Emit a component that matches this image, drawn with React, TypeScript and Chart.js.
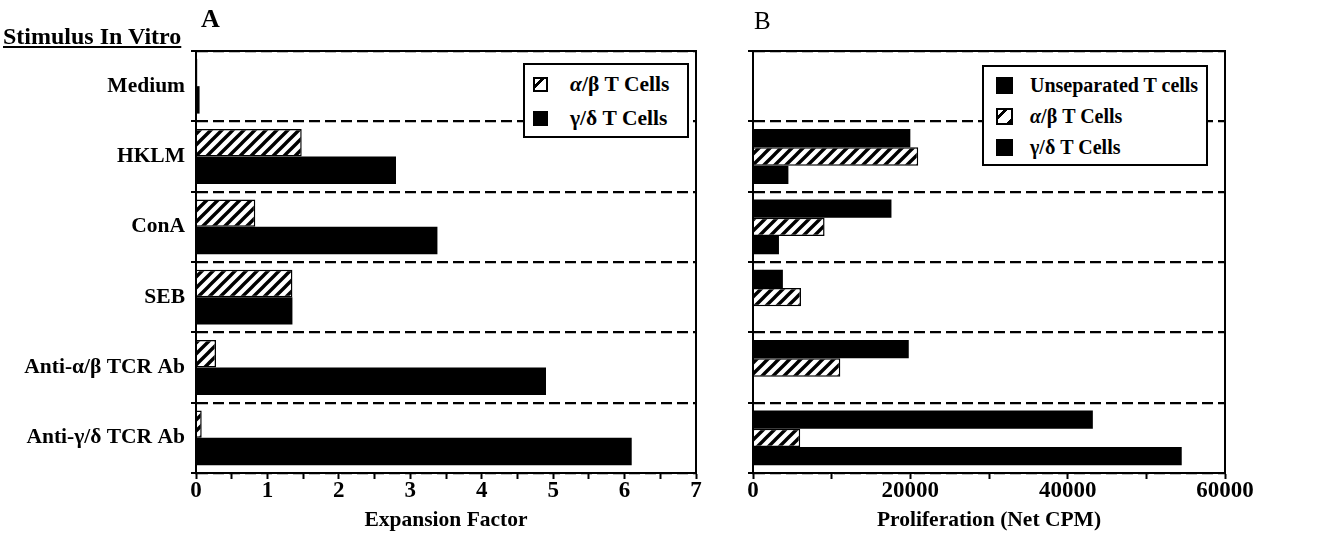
import React, { useEffect, useRef } from "react";
import { Chart, registerables } from "chart.js";
Chart.register(...registerables);

// ---------- data ----------
const categories = ["Medium", "HKLM", "ConA", "SEB", "Anti-α/β TCR Ab", "Anti-γ/δ TCR Ab"];

const expansionAlphaBeta = [0.02, 1.48, 0.83, 1.35, 0.28, 0.08];
const expansionGammaDelta = [0.05, 2.8, 3.38, 1.35, 4.9, 6.1];

const prolifUnseparated = [0, 20000, 17600, 3800, 19800, 43200];
const prolifAlphaBeta = [0, 21000, 9100, 6100, 11100, 6000];
const prolifGammaDelta = [0, 4500, 3300, 0, 0, 54500];

const expansionTickLabels = ["0", "1", "2", "3", "4", "5", "6", "7"];
const prolifTickLabels = ["0", "20000", "40000", "60000"];

const legendA = ["α/β T Cells", "γ/δ T Cells"];
const legendB = ["Unseparated T cells", "α/β T Cells", "γ/δ T Cells"];

const FONT = '"Liberation Serif", "Times New Roman", "DejaVu Serif", serif';

function makeHatch(): CanvasPattern {
  const s = 11;
  const c = document.createElement("canvas");
  c.width = s;
  c.height = s;
  const ctx = c.getContext("2d")!;
  ctx.fillStyle = "#fff";
  ctx.fillRect(0, 0, s, s);
  ctx.strokeStyle = "#000";
  ctx.lineWidth = 3.4;
  ctx.beginPath();
  ctx.moveTo(-1, s + 1);
  ctx.lineTo(s + 1, -1);
  ctx.moveTo(-s / 2 - 1, s / 2 + 1);
  ctx.lineTo(s / 2 + 1, -s / 2 - 1);
  ctx.moveTo(s / 2 - 1, s * 1.5 + 1);
  ctx.lineTo(s * 1.5 + 1, s / 2 - 1);
  ctx.stroke();
  return ctx.createPattern(c, "repeat")!;
}

// solid frame: left, top and right edges of the plot area
const framePlugin = {
  id: "frame",
  afterDatasetsDraw(chart: any) {
    const { ctx, chartArea: a } = chart;
    ctx.save();
    ctx.strokeStyle = "#000";
    ctx.lineWidth = 2;
    ctx.setLineDash([]);
    ctx.beginPath();
    ctx.moveTo(a.left, a.bottom);
    ctx.lineTo(a.left, a.top);
    ctx.lineTo(a.right, a.top);
    ctx.lineTo(a.right, a.bottom);
    ctx.stroke();
    ctx.restore();
  },
};

function makeOptions(opts: {
  max: number;
  step: number;
  labels: string[];
  title: string;
  showY: boolean;
  yWidth: number;
  padRight: number;
}): any {
  return {
    indexAxis: "y",
    animation: false,
    responsive: false,
    maintainAspectRatio: false,
    layout: { padding: { top: 51, right: opts.padRight, left: 0, bottom: 9 } },
    plugins: { legend: { display: false }, tooltip: { enabled: false } },
    datasets: { bar: { categoryPercentage: 0.78, barPercentage: 1.0 } },
    scales: {
      x: {
        type: "linear",
        min: 0,
        max: opts.max,
        afterFit: (s: any) => {
          s.height = 60;
        },
        ticks: {
          stepSize: opts.step,
          autoSkip: false,
          maxRotation: 0,
          color: "#000",
          padding: -2,
          font: { family: FONT, size: 23, weight: "bold" },
          callback: (v: any) => {
            const s = String(v);
            return opts.labels.includes(s) ? s : "";
          },
        },
        grid: {
          display: true,
          drawOnChartArea: false,
          drawTicks: true,
          tickLength: 6,
          tickColor: "#000",
          tickWidth: 2,
        },
        border: { display: true, color: "#000", width: 2 },
        title: {
          display: true,
          text: opts.title,
          color: "#000",
          padding: { top: 0, bottom: 0 },
          font: { family: FONT, size: 21.5, weight: "bold" },
        },
      },
      y: {
        type: "category",
        offset: true,
        afterFit: (s: any) => {
          s.width = opts.yWidth;
        },
        ticks: {
          display: opts.showY,
          color: "#000",
          padding: 6,
          font: { family: FONT, size: 21.5, weight: "bold" },
        },
        grid: {
          offset: true,
          display: true,
          drawOnChartArea: true,
          drawTicks: true,
          tickLength: 5,
          color: "#000",
          lineWidth: 2.2,
          tickColor: "#000",
          tickWidth: 2,
          tickBorderDash: [1, 0],
        },
        border: { display: true, color: "#000", width: 2, dash: [11, 5] },
      },
    },
  };
}

const legendBox: React.CSSProperties = {
  position: "absolute",
  background: "#fff",
  border: "2px solid #000",
  boxSizing: "border-box",
  fontFamily: FONT,
  fontWeight: "bold",
  color: "#000",
};

function Swatch({ hatch, size }: { hatch: boolean; size: number }) {
  return (
    <span
      style={{
        display: "inline-block",
        width: size,
        height: size,
        boxSizing: "border-box",
        border: "2px solid #000",
        background: hatch
          ? "repeating-linear-gradient(135deg, #fff 0px, #fff 4px, #000 4px, #000 7px, #fff 7px, #fff 11px)"
          : "#000",
        verticalAlign: "middle",
      }}
    />
  );
}

function greek(label: string) {
  const parts = label.split("α");
  if (parts.length === 1) return label;
  return (
    <>
      {parts[0]}
      <i>α</i>
      {parts[1]}
    </>
  );
}

export default function App() {
  const refA = useRef<HTMLCanvasElement>(null);
  const refB = useRef<HTMLCanvasElement>(null);

  useEffect(() => {
    const hatch = makeHatch();
    const chartA = new Chart(refA.current!, {
      type: "bar",
      data: {
        labels: categories,
        datasets: [
          {
            label: legendA[0],
            data: expansionAlphaBeta,
            backgroundColor: hatch,
            borderColor: "#000",
            borderWidth: 1.5,
          },
          {
            label: legendA[1],
            data: expansionGammaDelta,
            backgroundColor: "#000",
            borderColor: "#000",
            borderWidth: 0,
          },
        ],
      },
      options: makeOptions({
        max: 7,
        step: 0.5,
        labels: expansionTickLabels,
        title: "Expansion Factor",
        showY: true,
        yWidth: 196,
        padRight: 24,
      }),
      plugins: [framePlugin],
    });
    const chartB = new Chart(refB.current!, {
      type: "bar",
      data: {
        labels: categories,
        datasets: [
          {
            label: legendB[0],
            data: prolifUnseparated,
            backgroundColor: "#000",
            borderColor: "#000",
            borderWidth: 0,
          },
          {
            label: legendB[1],
            data: prolifAlphaBeta,
            backgroundColor: hatch,
            borderColor: "#000",
            borderWidth: 1.5,
          },
          {
            label: legendB[2],
            data: prolifGammaDelta,
            backgroundColor: "#000",
            borderColor: "#000",
            borderWidth: 0,
          },
        ],
      },
      options: makeOptions({
        max: 60000,
        step: 10000,
        labels: prolifTickLabels,
        title: "Proliferation (Net CPM)",
        showY: false,
        yWidth: 33,
        padRight: 100,
      }),
      plugins: [framePlugin],
    });
    return () => {
      chartA.destroy();
      chartB.destroy();
    };
  }, []);

  return (
    <div
      style={{
        position: "fixed",
        left: 0,
        top: 0,
        width: 1325,
        height: 542,
        background: "#fff",
        overflow: "hidden",
      }}
    >
      <canvas
        ref={refA}
        width={720}
        height={542}
        style={{ position: "absolute", left: 0, top: 0, width: 720, height: 542 }}
      />
      <canvas
        ref={refB}
        width={605}
        height={542}
        style={{ position: "absolute", left: 720, top: 0, width: 605, height: 542 }}
      />
      <div
        style={{
          position: "absolute",
          left: 3,
          top: 23,
          fontFamily: FONT,
          fontWeight: "bold",
          fontSize: 24,
          lineHeight: "26px",
          textDecoration: "underline",
          whiteSpace: "nowrap",
        }}
      >
        Stimulus In Vitro
      </div>
      <div
        style={{
          position: "absolute",
          left: 201,
          top: 5,
          fontFamily: FONT,
          fontWeight: "bold",
          fontSize: 26,
          lineHeight: "28px",
        }}
      >
        A
      </div>
      <div
        style={{
          position: "absolute",
          left: 754,
          top: 7,
          fontFamily: FONT,
          fontSize: 25,
          lineHeight: "28px",
        }}
      >
        B
      </div>
      <div
        style={{
          ...legendBox,
          fontSize: 21.5,
          left: 523,
          top: 63,
          width: 166,
          height: 75,
          padding: "0 0 0 8px",
        }}
      >
        {legendA.map((t, i) => (
          <div key={t} style={{ height: 34, lineHeight: "34px", whiteSpace: "nowrap" }}>
            <Swatch hatch={i === 0} size={15} />
            <span style={{ marginLeft: 22, verticalAlign: "middle" }}>{greek(t)}</span>
          </div>
        ))}
      </div>
      <div
        style={{
          ...legendBox,
          fontSize: 20,
          left: 982,
          top: 65,
          width: 226,
          height: 101,
          padding: "1px 0 0 12px",
        }}
      >
        {legendB.map((t, i) => (
          <div key={t + i} style={{ height: 31, lineHeight: "31px", whiteSpace: "nowrap" }}>
            <Swatch hatch={i === 1} size={17} />
            <span style={{ marginLeft: 17, verticalAlign: "middle" }}>{greek(t)}</span>
          </div>
        ))}
      </div>
    </div>
  );
}
